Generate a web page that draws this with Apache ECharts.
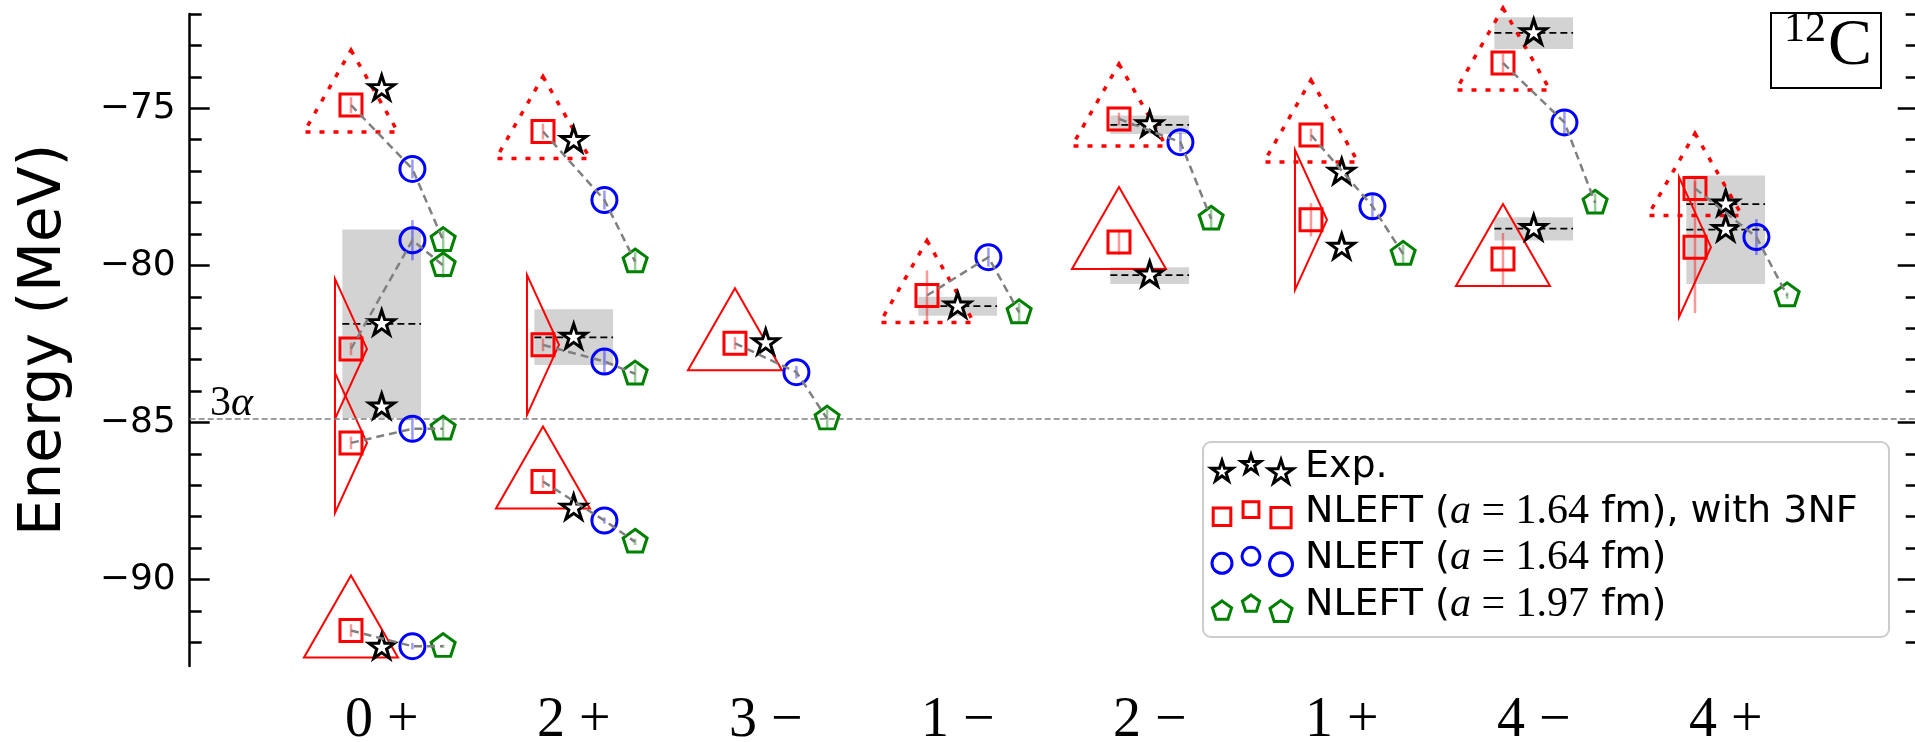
<!DOCTYPE html>
<html>
<head>
<meta charset="utf-8">
<script src="https://cdn.jsdelivr.net/npm/echarts@6/dist/echarts.min.js"></script>
<style>
html, body { margin: 0; padding: 0; background: #fff; }
#chart { width: 1915px; height: 742px; }
</style>
</head>
<body>
<div id="chart"></div>
<script>
var states = ['0 +', '2 +', '3 \u2212', '1 \u2212', '2 \u2212', '1 +', '4 \u2212', '4 +'];

// Exp. (stars), one list per state
var expE = [[-74.38, -81.86, -84.51, -92.16], [-76.03, -82.29, -87.73], [-82.47], [-81.30],
            [-75.53, -80.31], [-77.04, -79.43], [-72.60, -78.83], [-78.05, -78.86]];
// NLEFT a=1.64 fm with 3NF (squares)
var sqE = [[-74.90, -82.66, -85.65, -91.62], [-75.74, -82.53, -86.88], [-82.48], [-80.96],
           [-75.34, -79.26], [-75.85, -78.55], [-73.56, -79.80], [-77.55, -79.42]];
var sqErr = [[0.25, 0.2, 0.2, 0.2], [0.25, 0.2, 0.2], [0.2], [0.8], [0.2, 0.4], [0.2, 0.53], [0.3, 0.83], [0.3, 2.1]];
// triangle drawn round each square: dot = dotted, tri = solid, side = lying triangle
var sqShape = [['dot', 'side', 'side', 'tri'], ['dot', 'side', 'tri'], ['tri'], ['dot'],
               ['dot', 'tri'], ['dot', 'side'], ['dot', 'tri'], ['dot', 'side']];
// NLEFT a=1.64 fm (circles)
var circE = [[-76.93, -79.20, -85.20, -92.12], [-77.92, -83.06, -88.12], [-83.40], [-79.74],
             [-76.08], [-78.12], [-75.45], [-79.10]];
var circErr = [[0.3, 0.64, 0.35, 0.1], [0.3, 0.42, 0.1], [0.2], [0.3], [0.3], [0.42], [0.42], [0.57]];
// NLEFT a=1.97 fm (pentagons)
var pentE = [[-79.20, -80.00, -85.20, -92.12], [-79.88, -83.45, -88.80], [-84.88], [-81.50],
             [-78.52], [-79.64], [-78.01], [-80.96]];
var pentErr = [[0.3, 0.4, 0.3, 0.05], [0.3, 0.3, 0.1], [0.3], [0.3], [0.3], [0.3], [0.3], [0.1]];
// grey experimental bands [state, low, high] and dashed level lines [state, E]
var expBand = [[0, -84.86, -78.86], [1, -83.17, -81.40], [3, -81.60, -81.00], [4, -75.82, -75.23],
               [4, -80.59, -80.06], [6, -73.11, -72.10], [6, -79.21, -78.47], [7, -80.59, -77.14]];
var expLine = [[0, -81.86], [1, -82.29], [3, -81.30], [4, -75.53], [4, -80.31],
               [6, -72.60], [6, -78.83], [7, -78.05], [7, -78.86]];
var threshold3a = -84.89;

var OFF_SQ = -0.16, OFF_CIRC = 0.16, OFF_PENT = 0.32, BAND_HALF = 0.205;

var chart = echarts.init(document.getElementById('chart'));

function polyArr(n, inner, r, cx, cy) {
    var steps = inner ? 2 * n : n, pts = [];
    for (var j = 0; j < steps; j++) {
        var rr = (inner && j % 2) ? r * inner : r;
        var a = -Math.PI / 2 + j * 2 * Math.PI / steps;
        pts.push([cx + rr * Math.cos(a), cy + rr * Math.sin(a)]);
    }
    return pts;
}
function polyPath(pts) {
    return 'path://M' + pts.map(function (p) { return p[0].toFixed(3) + ',' + p[1].toFixed(3); }).join('L') + 'Z';
}
var STAR = polyPath(polyArr(5, 0.381966, 10, 0, 0));
var PENT = polyPath(polyArr(5, 0, 10, 0, 0));

function points(vals, off) {
    var out = [];
    vals.forEach(function (list, i) {
        list.forEach(function (v) { out.push([i + off, v]); });
    });
    return out;
}
function errPoints(vals, err, off) {
    var out = [];
    vals.forEach(function (list, i) {
        list.forEach(function (v, k) { out.push([i + off, v - err[i][k], v + err[i][k]]); });
    });
    return out;
}
var triData = [];
sqE.forEach(function (list, i) {
    list.forEach(function (v, k) {
        triData.push([i + OFF_SQ, v, ['dot', 'tri', 'side'].indexOf(sqShape[i][k])]);
    });
});
var chainData = [];
sqE.forEach(function (list, i) {
    list.forEach(function (v, k) {
        if (circE[i][k] !== undefined && pentE[i][k] !== undefined) {
            chainData.push([i, v, circE[i][k], pentE[i][k]]);
        }
    });
});

function errSeries(data, color) {
    return {
        type: 'custom', data: data, encode: {x: 0, y: [1, 2]}, z: 4, silent: true, clip: false,
        renderItem: function (params, api) {
            var a = api.coord([api.value(0), api.value(1)]);
            var b = api.coord([api.value(0), api.value(2)]);
            return {type: 'line', shape: {x1: a[0], y1: a[1], x2: b[0], y2: b[1]},
                    style: {stroke: color, lineWidth: 2.5}};
        }
    };
}

var majorY = [-90, -85, -80, -75];
var minorY = [];
for (var en = -92; en <= -72; en++) { if (en % 5 !== 0) minorY.push(en); }

function yAx(pos, vals, len, labels) {
    return {
        type: 'value', position: pos, min: -92.75, max: -72,
        axisLine: {show: pos === 'left' && labels, onZero: false, lineStyle: {color: '#000', width: 2.5}},
        axisTick: {show: true, inside: true, length: len, customValues: vals, lineStyle: {color: '#000', width: 2.5}},
        axisLabel: {show: labels, customValues: vals, margin: 14, padding: [8, 0, 0, 0], color: '#000',
                    fontSize: 36, fontFamily: 'DejaVu Sans',
                    formatter: function (v) { return String(v).replace('-', '\u2212'); }},
        splitLine: {show: false},
        name: labels ? 'Energy (MeV)' : '', nameLocation: 'middle', nameGap: 116, nameRotate: 90,
        nameTextStyle: {fontSize: 58, fontFamily: 'DejaVu Sans', color: '#000'}
    };
}

// legend drawn as in the source figure: three markers per entry
var legRows = [466.7, 511.7, 558.3, 605];
var legX = [1222, 1251, 1281], legDy = [5, -2, 6], legS = [0.8, 0.72, 0.92];
var legendEls = [{type: 'rect', shape: {x: 1203, y: 442, width: 686, height: 195, r: 8},
                  style: {fill: 'rgba(255,255,255,0.85)', stroke: '#cccccc', lineWidth: 2}, z: 100}];
for (var j = 0; j < 3; j++) {
    var lx = legX[j], ls = legS[j];
    legendEls.push({type: 'polygon', shape: {points: polyArr(5, 0.381966, 14 * ls, lx, legRows[0] + legDy[j])},
                    style: {fill: '#fff', stroke: '#000', lineWidth: 3}, z: 101});
    legendEls.push({type: 'rect', shape: {x: lx - 11 * ls, y: legRows[1] + legDy[j] - 11 * ls, width: 22 * ls, height: 22 * ls},
                    style: {fill: 'none', stroke: '#ff0000', lineWidth: 3}, z: 101});
    legendEls.push({type: 'circle', shape: {cx: lx, cy: legRows[2] + legDy[j], r: 12.5 * ls},
                    style: {fill: 'none', stroke: '#0000ff', lineWidth: 3}, z: 101});
    legendEls.push({type: 'polygon', shape: {points: polyArr(5, 0, 12.6 * ls, lx, legRows[3] + legDy[j] + 1)},
                    style: {fill: 'none', stroke: '#008000', lineWidth: 3}, z: 101});
}
var richLeg = {
    s: {fontFamily: 'DejaVu Sans', fontSize: 38, fill: '#000'},
    i: {fontFamily: 'Liberation Serif', fontStyle: 'italic', fontSize: 42, fill: '#000'},
    m: {fontFamily: 'Liberation Serif', fontSize: 42, fill: '#000'}
};
var legTexts = ['{s|Exp.}', '{s|NLEFT (}{i|a}{m| = 1.64}{s| fm), with 3NF}',
                '{s|NLEFT (}{i|a}{m| = 1.64}{s| fm)}', '{s|NLEFT (}{i|a}{m| = 1.97}{s| fm)}'];
legTexts.forEach(function (t, r) {
    legendEls.push({type: 'text', x: 1305, y: legRows[r], z: 101,
                    style: {text: t, rich: richLeg, verticalAlign: 'middle', fill: '#000', fontSize: 38, fontFamily: 'DejaVu Sans'}});
});

var option = {
    animation: false,
    backgroundColor: '#ffffff',
    grid: {left: 189.7, top: 14, width: 1728, height: 652, containLabel: false, outerBoundsMode: 'none'},
    xAxis: {
        type: 'value', min: -1, max: 8, interval: 1,
        axisLine: {show: false, onZero: false}, axisTick: {show: false}, splitLine: {show: false},
        axisLabel: {margin: 27, color: '#000', fontSize: 56, fontFamily: 'Liberation Serif',
                    formatter: function (v) { return (v >= 0 && v <= 7) ? states[v] : ''; }}
    },
    yAxis: [yAx('left', majorY, 20, true), yAx('left', minorY, 12, false),
            yAx('right', majorY, 20, false), yAx('right', minorY, 12, false)],
    graphic: legendEls.concat([
        {type: 'text', x: 210, y: 383, z: 50,
         style: {text: '{a|3}{b|\u03b1}', rich: {a: {fontFamily: 'Liberation Serif', fontSize: 42, fill: '#000'},
                 b: {fontFamily: 'Liberation Serif', fontStyle: 'italic', fontSize: 42, fill: '#000'}}}},
        {type: 'rect', shape: {x: 1771, y: 13, width: 110, height: 75}, style: {fill: '#fff', stroke: '#000', lineWidth: 2}, z: 100},
        {type: 'text', x: 1784, y: 9, z: 101, style: {text: '12', fontFamily: 'Liberation Serif', fontSize: 42, fill: '#000'}},
        {type: 'text', x: 1828, y: 14, z: 101, style: {text: 'C', fontFamily: 'Liberation Serif', fontSize: 66, fill: '#000'}}
    ]),
    series: [
        {
            type: 'custom', name: 'bands', data: expBand, encode: {x: 0, y: [1, 2]}, z: 1, silent: true,
            renderItem: function (params, api) {
                var a = api.coord([api.value(0) - BAND_HALF, api.value(2)]);
                var b = api.coord([api.value(0) + BAND_HALF, api.value(1)]);
                return {type: 'rect', shape: {x: a[0], y: a[1], width: b[0] - a[0], height: b[1] - a[1]},
                        style: {fill: '#d3d3d3'}};
            },
            markLine: {
                silent: true, symbol: 'none', label: {show: false},
                lineStyle: {color: '#808080', type: [6, 3], width: 1.6},
                data: [{yAxis: threshold3a}]
            }
        },
        {
            type: 'custom', name: 'levels', data: expLine, encode: {x: 0, y: 1}, z: 2, silent: true,
            renderItem: function (params, api) {
                var a = api.coord([api.value(0) - BAND_HALF, api.value(1)]);
                var b = api.coord([api.value(0) + BAND_HALF, api.value(1)]);
                return {type: 'line', shape: {x1: a[0], y1: a[1], x2: b[0], y2: b[1]},
                        style: {stroke: '#000', lineWidth: 1.8, lineDash: [7, 4]}};
            }
        },
        {
            type: 'custom', name: 'shapes', data: triData, encode: {x: 0, y: 1}, z: 3, silent: true, clip: false,
            renderItem: function (params, api) {
                var p = api.coord([api.value(0), api.value(1)]);
                var kind = api.value(2), pts;
                if (kind === 2) {
                    pts = [[p[0] - 16, p[1] - 70], [p[0] + 16, p[1]], [p[0] - 16, p[1] + 70]];
                } else {
                    pts = [[p[0], p[1] - 55], [p[0] + 47, p[1] + 27], [p[0] - 47, p[1] + 27]];
                }
                return {type: 'polygon', shape: {points: pts},
                        style: {fill: 'none', stroke: '#ff0000', lineWidth: kind === 0 ? 3.5 : 2,
                                lineDash: kind === 0 ? [5, 9] : null}};
            }
        },
        errSeries(errPoints(sqE, sqErr, OFF_SQ), 'rgba(255,0,0,0.4)'),
        errSeries(errPoints(circE, circErr, OFF_CIRC), 'rgba(0,0,255,0.4)'),
        errSeries(errPoints(pentE, pentErr, OFF_PENT), 'rgba(0,128,0,0.4)'),
        {
            type: 'scatter', name: 'NLEFT 3NF', data: points(sqE, OFF_SQ), symbol: 'rect', symbolSize: 22, z: 5,
            itemStyle: {color: 'rgba(0,0,0,0)', borderColor: '#ff0000', borderWidth: 3, opacity: 1}
        },
        {
            type: 'scatter', name: 'Exp.', data: points(expE, 0), symbol: STAR, symbolSize: [25.5, 24.3],
            symbolOffset: [0, -1.3], z: 5,
            itemStyle: {color: '#ffffff', borderColor: '#000000', borderWidth: 3, opacity: 1}
        },
        {
            type: 'scatter', name: 'NLEFT 1.64', data: points(circE, OFF_CIRC), symbol: 'circle', symbolSize: 25, z: 5,
            itemStyle: {color: 'rgba(0,0,0,0)', borderColor: '#0000ff', borderWidth: 3, opacity: 1}
        },
        {
            type: 'scatter', name: 'NLEFT 1.97', data: points(pentE, OFF_PENT), symbol: PENT, symbolSize: [24, 22.8],
            symbolOffset: [0, -1.2], z: 5,
            itemStyle: {color: 'rgba(0,0,0,0)', borderColor: '#008000', borderWidth: 3, opacity: 1}
        },
        {
            type: 'custom', name: 'chains', data: chainData, encode: {x: 0, y: [1, 2, 3]}, z: 6, silent: true, clip: false,
            renderItem: function (params, api) {
                var i = api.value(0);
                var pts = [api.coord([i + OFF_SQ, api.value(1)]), api.coord([i + OFF_CIRC, api.value(2)]),
                           api.coord([i + OFF_PENT, api.value(3)])];
                return {type: 'polyline', shape: {points: pts},
                        style: {fill: 'none', stroke: '#808080', lineWidth: 2.5, lineDash: [8, 5]}};
            }
        }
    ]
};
chart.setOption(option);
</script>
</body>
</html>
